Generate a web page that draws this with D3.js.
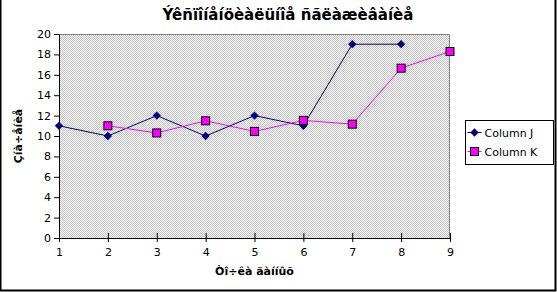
<!DOCTYPE html>
<html>
<head>
<meta charset="utf-8">
<script src="https://cdn.jsdelivr.net/npm/d3@7"></script>
<style>
  body { margin: 0; background: #fff; }
  text { font-family: "DejaVu Sans", Verdana, sans-serif; }
</style>
</head>
<body>
<svg id="chart" width="557" height="292"></svg>
<script>
// data
const points  = [1, 2, 3, 4, 5, 6, 7, 8, 9];
const columnJ = [11, 10, 12, 10, 12, 11, 19, 19, null];
const columnK = [null, 11, 10.3, 11.49, 10.45, 11.53, 11.16, 16.65, 18.29];
const yTicks  = [0, 2, 4, 6, 8, 10, 12, 14, 16, 18, 20];

const title  = 'Ýêñïîíåíöèàëüíîå ñãëàæèâàíèå';
const xTitle = 'Òî÷êà äàííûõ';
const yTitle = 'Çíà÷åíèå';

const svg = d3.select('#chart');
const margin = { top: 34, left: 59, right: 107, bottom: 54 };
const W = 557, H = 292;
const w = W - margin.left - margin.right;
const h = H - margin.top - margin.bottom;

// dithered plot background
const defs = svg.append('defs');
const pat = defs.append('pattern')
  .attr('id', 'dither').attr('width', 2).attr('height', 2)
  .attr('patternUnits', 'userSpaceOnUse');
pat.append('rect').attr('width', 2).attr('height', 2).attr('fill', '#fff');
pat.append('rect').attr('x', 1).attr('y', 0).attr('width', 1).attr('height', 1).attr('fill', '#c0c0c0');
pat.append('rect').attr('x', 0).attr('y', 1).attr('width', 1).attr('height', 1).attr('fill', '#c0c0c0');

// outer frame
svg.append('path')
  .attr('d', `M0.5,0 V${H - 1.5} H${W - 1.5} V0`)
  .attr('fill', 'none').attr('stroke', '#000').attr('stroke-width', 2);

const g = svg.append('g').attr('transform', `translate(${margin.left},${margin.top})`);

const x = d3.scaleLinear().domain([1, 9]).range([0, w]);
const y = d3.scaleLinear().domain([0, 20]).range([h, 0]);

g.append('rect').attr('width', w).attr('height', h).attr('fill', 'url(#dither)');
g.append('path')
  .attr('d', `M0,0.5 H${w - 0.5} V${h}`)
  .attr('fill', 'none').attr('stroke', '#808080').attr('stroke-width', 1);

// y axis
const yAxis = g.append('g')
  .call(d3.axisLeft(y).tickValues(yTicks).tickSize(5).tickPadding(3).tickSizeOuter(0));
yAxis.select('.domain').attr('stroke', '#000');
yAxis.selectAll('text').attr('font-size', 11).attr('fill', '#000');

// x axis (ticks cross the axis)
const xAxis = g.append('g').attr('transform', `translate(0,${h})`)
  .call(d3.axisBottom(x).tickValues(points).tickSize(4).tickPadding(6).tickSizeOuter(0));
xAxis.selectAll('.tick line').attr('y1', -5).attr('y2', 4);
xAxis.select('.domain').attr('stroke', '#000');
xAxis.selectAll('text').attr('font-size', 11).attr('fill', '#000');

// series
const line = d3.line()
  .defined(d => d.v != null)
  .x(d => x(d.p)).y(d => y(d.v));

const jData = points.map((p, i) => ({ p, v: columnJ[i] }));
const kData = points.map((p, i) => ({ p, v: columnK[i] }));

g.append('path').datum(jData).attr('d', line)
  .attr('fill', 'none').attr('stroke', '#000080').attr('stroke-width', 1);
g.append('path').datum(kData).attr('d', line)
  .attr('fill', 'none').attr('stroke', '#ff00ff').attr('stroke-width', 1);

const diamond = d3.symbol().type(d3.symbolDiamond2).size(44);
g.selectAll('.mj').data(jData.filter(d => d.v != null)).join('path')
  .attr('transform', d => `translate(${x(d.p)},${y(d.v)})`)
  .attr('d', diamond).attr('fill', '#000080');

g.selectAll('.mk').data(kData.filter(d => d.v != null)).join('rect')
  .attr('x', d => x(d.p) - 4).attr('y', d => y(d.v) - 4)
  .attr('width', 8).attr('height', 8)
  .attr('fill', '#ff00ff').attr('stroke', '#000').attr('stroke-width', 1);

// titles
svg.append('text').attr('x', 288).attr('y', 20).attr('text-anchor', 'middle')
  .attr('font-size', 15).attr('font-weight', 'bold').text(title);
svg.append('text').attr('x', margin.left + w / 2).attr('y', 275).attr('text-anchor', 'middle')
  .attr('font-size', 11).attr('font-weight', 'bold').text(xTitle);
svg.append('text').attr('transform', `translate(22,${margin.top + h / 2}) rotate(-90)`)
  .attr('text-anchor', 'middle').attr('font-size', 11).attr('font-weight', 'bold').text(yTitle);

// legend
const lg = svg.append('g').attr('transform', 'translate(465.5,120.5)');
lg.append('rect').attr('width', 88).attr('height', 44)
  .attr('fill', '#fff').attr('stroke', '#000');
const items = [
  { name: 'Column J', color: '#000080', mark: 'diamond' },
  { name: 'Column K', color: '#ff00ff', mark: 'square' }
];
items.forEach((it, i) => {
  const cy = 12 + i * 19;
  lg.append('line').attr('x1', 2).attr('x2', 16).attr('y1', cy).attr('y2', cy)
    .attr('stroke', it.color);
  if (it.mark === 'diamond') {
    lg.append('path').attr('transform', `translate(9,${cy})`).attr('d', diamond).attr('fill', it.color);
  } else {
    lg.append('rect').attr('x', 5).attr('y', cy - 4).attr('width', 8).attr('height', 8)
      .attr('fill', it.color).attr('stroke', '#000');
  }
  lg.append('text').attr('x', 19).attr('y', cy + 4).attr('font-size', 11).text(it.name);
});
</script>
</body>
</html>
